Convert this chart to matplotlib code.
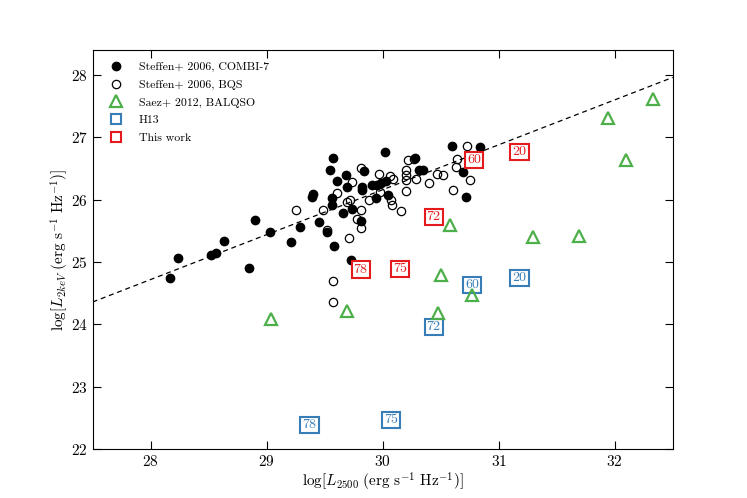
import numpy as np
import matplotlib
matplotlib.use('Agg')
import matplotlib.pyplot as plt

plt.rcParams['font.family'] = 'serif'
plt.rcParams['font.serif'] = ['cmr10']
plt.rcParams['mathtext.fontset'] = 'cm'
plt.rcParams['axes.formatter.use_mathtext'] = True

# Steffen+ 2006, COMBI-7 (log L2500, log L2keV)
combi_x = [28.17, 28.24, 28.52, 28.56, 28.63, 28.90, 28.85, 29.03, 29.21, 29.29,
           29.45, 29.52, 29.57, 30.02, 29.55, 29.68, 29.84, 29.61, 29.69, 29.82,
           29.82, 29.91, 29.95, 29.99, 30.03, 29.40, 29.39, 29.56, 29.56, 29.94,
           30.05, 29.66, 29.74, 29.81, 29.58, 29.73, 30.60, 30.84, 30.28, 30.31,
           30.35, 30.69, 30.72]
combi_y = [24.74, 25.07, 25.12, 25.14, 25.34, 25.67, 24.91, 25.49, 25.32, 25.57,
           25.64, 25.48, 26.67, 26.76, 26.47, 26.40, 26.46, 26.30, 26.20, 26.20,
           26.15, 26.24, 26.23, 26.26, 26.30, 26.09, 26.05, 26.03, 25.91, 26.03,
           26.08, 25.78, 25.85, 25.66, 25.25, 25.03, 26.86, 26.84, 26.67, 26.47,
           26.48, 26.44, 26.04]

# Steffen+ 2006, BQS
bqs_x = [29.25, 29.49, 29.61, 29.69, 29.72, 29.74, 29.81, 29.97, 30.06, 29.88,
         29.81, 29.78, 29.81, 29.52, 29.71, 30.07, 30.08, 30.16, 29.98, 30.09,
         30.20, 30.20, 30.22, 30.20, 30.20, 30.73, 30.64, 30.63, 30.52, 30.75,
         30.61, 30.29, 30.40, 30.47, 29.57, 29.57, 30.27]
bqs_y = [25.84, 25.83, 26.10, 25.96, 25.99, 26.28, 26.51, 26.41, 26.38, 25.99,
         25.84, 25.69, 25.55, 25.52, 25.38, 25.99, 25.91, 25.82, 26.12, 26.33,
         26.39, 26.47, 26.64, 26.14, 26.32, 26.86, 26.65, 26.53, 26.40, 26.32,
         26.15, 26.33, 26.26, 26.42, 24.70, 24.36, 26.65]

# Saez+ 2012, BALQSO
saez_x = [29.04, 29.69, 30.48, 30.50, 30.58, 30.77, 31.30, 31.69, 31.94, 32.10, 32.33]
saez_y = [24.08, 24.22, 24.18, 24.80, 25.60, 24.48, 25.40, 25.42, 27.31, 26.64, 27.61]

# H13 and this work, labelled by object number
h13_lab = ['78', '75', '72', '60', '20']
h13_x = [29.37, 30.07, 30.44, 30.77, 31.18]
h13_y = [22.39, 22.47, 23.96, 24.63, 24.74]

this_lab = ['78', '75', '72', '60', '20']
this_x = [29.81, 30.15, 30.44, 30.79, 31.18]
this_y = [24.88, 24.89, 25.72, 26.64, 26.76]

# Steffen+ 2006 alpha_ox relation, end points
line_x = [27.5, 32.5]
line_y = [24.36, 27.96]

green = '#4daf4a'
blue = '#377eb8'
red = '#e41a1c'

fig = plt.figure(figsize=(7.47, 4.98), dpi=100)
ax = fig.add_subplot(111)
fig.subplots_adjust(left=0.124, right=0.9005, top=0.8996, bottom=0.098)

ax.plot(line_x, line_y, color='k', ls=(0, (4, 3)), lw=0.9, zorder=1)

ax.plot(combi_x, combi_y, 'o', color='k', ms=6, label='Steffen+ 2006, COMBI-7', zorder=2)
ax.plot(bqs_x, bqs_y, 'o', mfc='none', mec='k', mew=0.9, ms=6,
        label='Steffen+ 2006, BQS', zorder=2)

# boxed labels
for lab, x, y in zip(h13_lab, h13_x, h13_y):
    ax.text(x, y, lab, color=blue, fontsize=10, ha='center', va='center', zorder=3,
            bbox=dict(boxstyle='square,pad=0.15', fc='white', ec=blue, lw=1.5))
for lab, x, y in zip(this_lab, this_x, this_y):
    ax.text(x, y, lab, color=red, fontsize=10, ha='center', va='center', zorder=3,
            bbox=dict(boxstyle='square,pad=0.15', fc='white', ec=red, lw=1.5))

ax.plot(saez_x, saez_y, '^', mfc='none', mec=green, mew=1.6, ms=9,
        label='Saez+ 2012, BALQSO', zorder=4)

# legend entries for the boxed samples
ax.plot([], [], 's', mfc='none', mec=blue, mew=1.5, ms=7, label='H13')
ax.plot([], [], 's', mfc='none', mec=red, mew=1.5, ms=7, label='This work')

ax.set_xlim(27.5, 32.5)
ax.set_ylim(22, 28.4)
ax.set_xticks([28, 29, 30, 31, 32])
ax.set_yticks([22, 23, 24, 25, 26, 27, 28])
ax.tick_params(direction='in', top=True, right=True, length=6, width=0.8, labelsize=11)

ax.set_xlabel(r'$\log[L_{2500}\ ({\rm erg\ s^{-1}\ Hz^{-1}})]$', fontsize=11, labelpad=1)
ax.set_ylabel(r'$\log[L_{2keV}\ ({\rm erg\ s^{-1}\ Hz^{-1}})]$', fontsize=11, labelpad=0)

ax.legend(loc='upper left', frameon=False, fontsize=8.5, numpoints=1,
          handletextpad=0.9, labelspacing=0.62, borderaxespad=0.6)

fig.savefig('out.png', dpi=100)
